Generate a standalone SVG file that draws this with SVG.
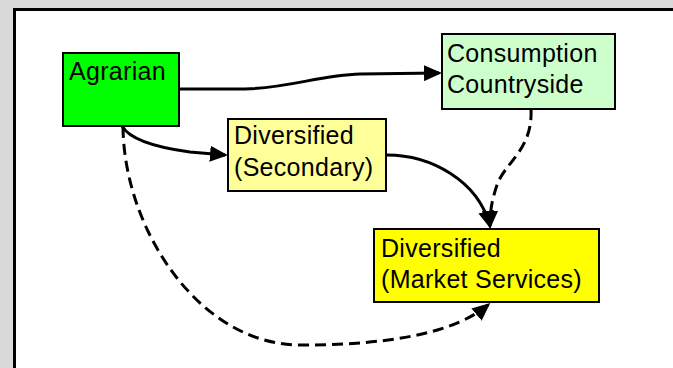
<svg xmlns="http://www.w3.org/2000/svg" width="673" height="368" viewBox="0 0 673 368">
<style>
.box{stroke:#000;stroke-width:2}
.lbl{font-family:"Liberation Sans",Arial,sans-serif;font-size:25px;letter-spacing:0.3px;fill:#000}
.con{fill:none;stroke:#000;stroke-width:3;marker-end:url(#ah)}
.dash{stroke-dasharray:11 6}
</style>
<defs>
<marker id="ah" markerUnits="userSpaceOnUse" markerWidth="18" markerHeight="16" refX="15" refY="8" orient="auto" viewBox="0 0 18 16">
<path d="M0,0 L18,8 L0,16 Z" fill="#000"/>
</marker>
</defs>
<rect x="0" y="0" width="673" height="368" fill="#d9d9d9"/>
<rect x="14.5" y="9.5" width="700" height="400" fill="#fff" stroke="#000" stroke-width="3"/>
<g id="connectors">
<path class="con" d="M179,89 L245,89 C290,88 320,75 360,74 L439,73"/>
<path class="con" d="M122,126 C130,140 160,148 190,152 L225,155"/>
<path class="con dash" d="M123,127 C124,230 200,345 300,345 C400,345 458,330 488,305"/>
<path class="con" d="M387,155 C430,155 478,180 490,226"/>
<path class="con dash" d="M531,109 C533,150 505,162 497,185 C492,200 490,210 490,226"/>
</g>
<g id="agrarian">
<rect class="box" x="63" y="53" width="116" height="73" fill="#00ff00"/>
<text class="lbl" x="69" y="80">Agrarian</text>
</g>
<g id="consumption">
<rect class="box" x="442" y="34" width="173" height="75" fill="#ccffcc"/>
<text class="lbl" x="447" y="62">Consumption</text>
<text class="lbl" x="447" y="93">Countryside</text>
</g>
<g id="secondary">
<rect class="box" x="228" y="119" width="158" height="72" fill="#ffff99"/>
<text class="lbl" x="234" y="144">Diversified</text>
<text class="lbl" x="234" y="176">(Secondary)</text>
</g>
<g id="market">
<rect class="box" x="374" y="229" width="225" height="73" fill="#ffff00"/>
<text class="lbl" x="381" y="257">Diversified</text>
<text class="lbl" x="381" y="288">(Market Services)</text>
</g>
</svg>
